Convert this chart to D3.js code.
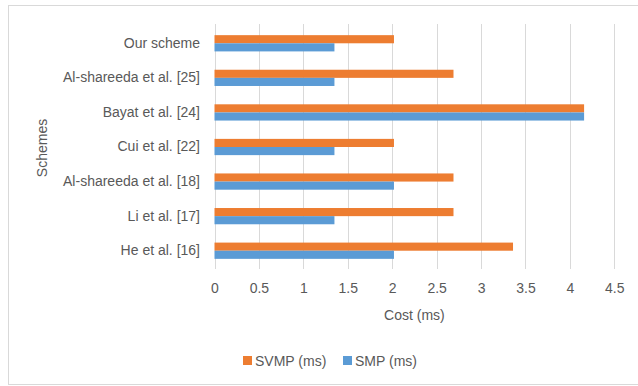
<!DOCTYPE html>
<html>
<head>
<meta charset="utf-8">
<script src="https://cdn.jsdelivr.net/npm/d3@7"></script>
<style>
  html, body { margin: 0; padding: 0; background: #fff; }
  svg { display: block; }
  text { font-family: "Liberation Sans", Arial, sans-serif; fill: #595959; }
</style>
</head>
<body>
<svg id="chart" width="638" height="386"></svg>
<script>
// Schemes, listed top to bottom
const schemes = [
  "Our scheme",
  "Al-shareeda et al. [25]",
  "Bayat et al. [24]",
  "Cui et al. [22]",
  "Al-shareeda et al. [18]",
  "Li et al. [17]",
  "He et al. [16]"
];
const seriesNames = ["SVMP (ms)", "SMP (ms)"];
const svmpValues = [2.02, 2.69, 4.16, 2.02, 2.69, 2.69, 3.36];
const smpValues  = [1.35, 1.35, 4.16, 1.35, 2.02, 1.35, 2.02];
const xTicks = [0, 0.5, 1, 1.5, 2, 2.5, 3, 3.5, 4, 4.5];
const seriesColors = ["#ED7D31", "#5B9BD5"];

const svg = d3.select("#chart");

// Outer chart border
svg.append("rect")
  .attr("x", 8.5).attr("y", 5.5)
  .attr("width", 640).attr("height", 379)
  .attr("fill", "none").attr("stroke", "#d9d9d9").attr("stroke-width", 1);

const plot = { left: 214.5, right: 614.3, top: 24, bottom: 269 };

const x = d3.scaleLinear().domain([0, 4.5]).range([plot.left, plot.right]);
const y = d3.scaleBand().domain(schemes).range([26, 268])
  .paddingInner(0.53).paddingOuter(0.265);
const ySub = d3.scaleBand().domain(seriesNames).range([0, y.bandwidth()]);

// Vertical gridlines
svg.append("g").selectAll("line")
  .data(xTicks)
  .join("line")
  .attr("x1", d => Math.round(x(d)) + 0.5)
  .attr("x2", d => Math.round(x(d)) + 0.5)
  .attr("y1", plot.top).attr("y2", plot.bottom)
  .attr("stroke", "#d9d9d9").attr("stroke-width", 1);

// Bars
const rows = schemes.map((s, i) => ({ scheme: s, values: [svmpValues[i], smpValues[i]] }));
const groups = svg.append("g").selectAll("g")
  .data(rows)
  .join("g")
  .attr("transform", d => `translate(0,${y(d.scheme)})`);

groups.selectAll("rect")
  .data(d => d.values.map((v, k) => ({ key: seriesNames[k], value: v, color: seriesColors[k] })))
  .join("rect")
  .attr("x", x(0))
  .attr("y", d => ySub(d.key))
  .attr("width", d => x(d.value) - x(0))
  .attr("height", ySub.bandwidth())
  .attr("fill", d => d.color);

// X axis tick labels
const xAxis = d3.axisBottom(x).tickValues(xTicks).tickSize(0).tickPadding(0)
  .tickFormat(d3.format("~g"));
const gx = svg.append("g").attr("transform", `translate(0,${plot.bottom + 14})`).call(xAxis);
gx.select(".domain").remove();
gx.selectAll("text").attr("font-size", 14).attr("fill", "#595959")
  .attr("font-family", "Liberation Sans, Arial, sans-serif");

// Y axis category labels
const yAxis = d3.axisLeft(y).tickSize(0).tickPadding(0);
const gy = svg.append("g").attr("transform", `translate(200,0)`).call(yAxis);
gy.select(".domain").remove();
gy.selectAll("text").attr("font-size", 14).attr("fill", "#595959")
  .attr("font-family", "Liberation Sans, Arial, sans-serif");

// Axis titles
svg.append("text")
  .attr("x", (plot.left + plot.right) / 2).attr("y", 315)
  .attr("text-anchor", "middle").attr("dominant-baseline", "central")
  .attr("font-size", 14)
  .text("Cost (ms)");

svg.append("text")
  .attr("transform", `translate(42,148) rotate(-90)`)
  .attr("text-anchor", "middle").attr("dominant-baseline", "central")
  .attr("font-size", 14)
  .text("Schemes");

// Legend
const legendX = [243, 343];
const legend = svg.append("g").selectAll("g")
  .data(seriesNames)
  .join("g")
  .attr("transform", (d, i) => `translate(${legendX[i]},356)`);
legend.append("rect")
  .attr("width", 9).attr("height", 9)
  .attr("fill", (d, i) => seriesColors[i]);
legend.append("text")
  .attr("x", 12).attr("y", 4.5)
  .attr("dominant-baseline", "central")
  .attr("font-size", 14)
  .text(d => d);
</script>
</body>
</html>
